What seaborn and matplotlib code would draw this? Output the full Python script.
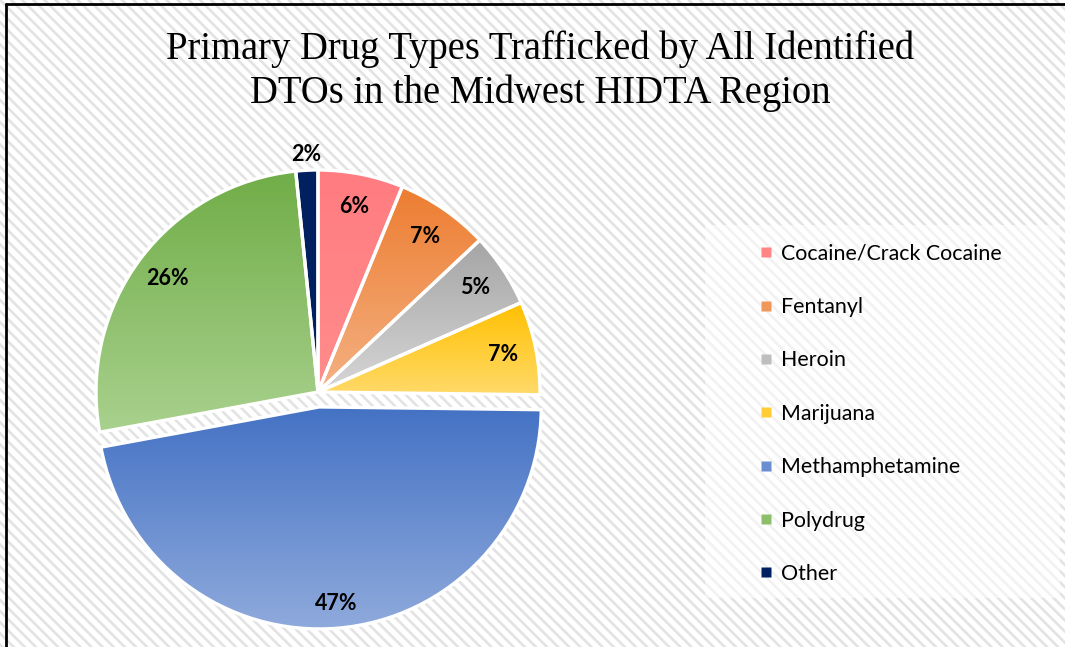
import numpy as np
import matplotlib
matplotlib.use("Agg")
import matplotlib.pyplot as plt
import seaborn as sns
from matplotlib.colors import LinearSegmentedColormap, to_rgb
from matplotlib.patches import Rectangle
from matplotlib.lines import Line2D

# ---- data ----
categories = ["Cocaine/Crack Cocaine", "Fentanyl", "Heroin", "Marijuana",
              "Methamphetamine", "Polydrug", "Other"]
shares = [6.2, 6.8, 5.4, 6.8, 46.9, 26.3, 1.6]
top_colors = ["#FF7C80", "#ED7D31", "#A5A5A5", "#FFC000", "#4472C4", "#70AD47", "#002060"]
bottom_colors = ["#FF8C8C", "#F4B183", "#D6D6D6", "#FFDA6A", "#8FAADC", "#A9D18E", "#002060"]
title = "Primary Drug Types Trafficked by All Identified\nDTOs in the Midwest HIDTA Region"

sns.set_theme(style="white")
plt.rcParams["font.family"] = ["Lato", "DejaVu Sans"]
plt.rcParams["hatch.linewidth"] = 1.9
plt.rcParams["hatch.color"] = "#e3e3e3"

W, H = 1065, 647
fig = plt.figure(figsize=(W / 100, H / 100), dpi=100)
fig.patch.set_facecolor("white")

# hatched background
bg = Rectangle((0, 0), 1, 1, transform=fig.transFigure, facecolor="white",
               edgecolor="#e3e3e3", hatch="\\\\\\", linewidth=0, zorder=-10)
fig.add_artist(bg)

ax = fig.add_axes([0, 0, 1, 1])
ax.set_facecolor("none")

center = (318, H - 392)
R = 222
explode = [0, 0, 0, 0, 15, 0, 0]

wedges, texts, autotexts = ax.pie(
    shares, radius=R, center=center, startangle=90, counterclock=False,
    explode=explode, autopct=lambda p: f"{p:.0f}%", pctdistance=0.85,
    colors=top_colors, frame=True,
    wedgeprops=dict(edgecolor="white", linewidth=2.4),
    textprops=dict(fontsize=15.5, fontweight="bold", color="black"),
)

# gradient fills clipped to each wedge
for w, ct, cb in zip(wedges, top_colors, bottom_colors):
    ext = w.get_path().get_extents(w.get_patch_transform())
    cmap = LinearSegmentedColormap.from_list("g", [cb, ct])
    grad = np.linspace(0, 1, 256).reshape(-1, 1)
    im = ax.imshow(grad, extent=[ext.x0, ext.x1, ext.y0, ext.y1], origin="lower",
                   cmap=cmap, aspect="auto", interpolation="bilinear", zorder=1)
    im.set_clip_path(w)
    w.set_facecolor("none")
    w.set_zorder(2)

for t in autotexts:
    t.set_zorder(5)


def place_label(i, frac):
    w = wedges[i]
    ang = np.deg2rad((w.theta1 + w.theta2) / 2)
    autotexts[i].set_position((w.center[0] + frac * R * np.cos(ang),
                               w.center[1] + frac * R * np.sin(ang)))


place_label(6, 1.07)   # tiny slice label outside
place_label(4, 0.89)   # methamphetamine

ax.set_xlim(0, W)
ax.set_ylim(0, H)
ax.set_aspect("auto")
ax.axis("off")

# title
fig.text(540 / W, 1 - 71 / H, title, ha="center", va="center", color="black",
         fontsize=27.8, family=["Liberation Serif"], linespacing=1.24)

# legend box
lb = Rectangle((705, H - 598), 355, 373, facecolor="white", alpha=0.55,
               edgecolor="none", zorder=0)
ax.add_patch(lb)
handles = [Line2D([], [], marker="s", linestyle="none", markersize=6.5,
                  markerfacecolor=0.5 * (np.array(to_rgb(a)) + np.array(to_rgb(b))),
                  markeredgecolor="none")
           for a, b in zip(top_colors, bottom_colors)]
ax.legend(handles, categories, loc="upper left", bbox_to_anchor=(747 / W, 1 - 233 / H),
          frameon=False, fontsize=15.4, labelspacing=1.56, handlelength=0.8,
          handletextpad=0.3, borderpad=0, labelcolor="black")

# border lines
fig.add_artist(Line2D([6 / W, 6 / W], [0, 1 - 4 / H], transform=fig.transFigure,
                      color="black", linewidth=2))
fig.add_artist(Line2D([6 / W, 1], [1 - 4 / H, 1 - 4 / H], transform=fig.transFigure,
                      color="black", linewidth=2))

fig.savefig("out.png", dpi=100)
